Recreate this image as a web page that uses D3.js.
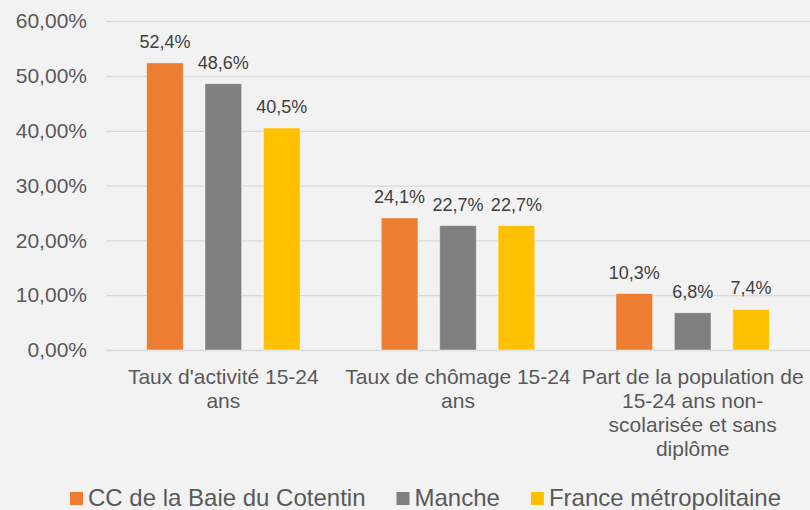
<!DOCTYPE html>
<html>
<head>
<meta charset="utf-8">
<script src="https://cdn.jsdelivr.net/npm/d3@7"></script>
<style>
  html, body { margin: 0; padding: 0; background: #f2f2f2; }
  svg { display: block; }
  text { font-family: "Liberation Sans", Arial, sans-serif; }
</style>
</head>
<body>
<svg id="chart" width="810" height="510"></svg>
<script>
const categories = [
  "Taux d'activité 15-24 ans",
  "Taux de chômage 15-24 ans",
  "Part de la population de 15-24 ans non-scolarisée et sans diplôme"
];
const categoryLines = [
  ["Taux d'activité 15-24", "ans"],
  ["Taux de chômage 15-24", "ans"],
  ["Part de la population de", "15-24 ans non-", "scolarisée et sans", "diplôme"]
];
const seriesNames = ["CC de la Baie du Cotentin", "Manche", "France métropolitaine"];
const seriesColors = ["#ED7D31", "#7F7F7F", "#FFC000"];
const valuesCC = [0.524, 0.241, 0.103];
const valuesManche = [0.486, 0.227, 0.068];
const valuesFrance = [0.405, 0.227, 0.074];
const yTicks = [0, 0.1, 0.2, 0.3, 0.4, 0.5, 0.6];

const seriesValues = [valuesCC, valuesManche, valuesFrance];

const W = 810, H = 510;
const svg = d3.select("#chart");
svg.append("rect").attr("width", W).attr("height", H).attr("fill", "#f2f2f2");

const locale = d3.formatLocale({ decimal: ",", thousands: " ", grouping: [3], currency: ["", "€"] });
const fmtTick = locale.format(".2%");
const fmtLabel = locale.format(".1%");

const plotLeft = 106, plotRight = 810, plotTop = 21.2, plotBottom = 350;

const y = d3.scaleLinear().domain([0, 0.6]).range([plotBottom, plotTop]);
const x0 = d3.scaleBand().domain(categories).range([plotLeft, plotRight]).paddingInner(0).paddingOuter(0);
const x1 = d3.scaleBand().domain(seriesNames).range([0, x0.bandwidth()]).paddingInner(0.372).paddingOuter(0.695);

// gridlines + y axis
const yAxis = d3.axisLeft(y).tickValues(yTicks).tickFormat(fmtTick).tickSize(-(plotRight - plotLeft)).tickPadding(19);
const gy = svg.append("g").attr("transform", `translate(${plotLeft},0)`).call(yAxis);
gy.select(".domain").remove();
gy.selectAll(".tick line").attr("stroke", "#d9d9d9").attr("stroke-width", 1.3);
gy.selectAll(".tick text")
  .attr("fill", "#595959")
  .style("font-size", "21px")
  .style("font-family", "'Liberation Sans', Arial, sans-serif");

// bars
const rows = categories.map((c, i) => ({ cat: c, vals: seriesNames.map((s, j) => ({ s, j, v: seriesValues[j][i] })) }));

const groups = svg.append("g").selectAll("g").data(rows).join("g")
  .attr("transform", d => `translate(${x0(d.cat)},0)`);

groups.selectAll("rect").data(d => d.vals).join("rect")
  .attr("x", d => x1(d.s))
  .attr("y", d => y(d.v))
  .attr("width", x1.bandwidth())
  .attr("height", d => y(0) - y(d.v))
  .attr("fill", d => seriesColors[d.j])
  .attr("stroke", "rgba(255,255,255,0.45)")
  .attr("stroke-width", 1);

groups.selectAll("text.lbl").data(d => d.vals).join("text")
  .attr("class", "lbl")
  .attr("x", d => x1(d.s) + x1.bandwidth() / 2)
  .attr("y", d => y(d.v) - 15)
  .attr("text-anchor", "middle")
  .attr("fill", "#404040")
  .style("font-size", "18px")
  .text(d => fmtLabel(d.v));

// category labels
const catG = svg.append("g");
categories.forEach((cat, i) => {
  const cx = x0(cat) + x0.bandwidth() / 2;
  const t = catG.append("text")
    .attr("x", cx).attr("y", 384)
    .attr("text-anchor", "middle")
    .attr("fill", "#595959")
    .style("font-size", "21px");
  categoryLines[i].forEach((ln, k) => {
    t.append("tspan").attr("x", cx).attr("dy", k === 0 ? 0 : 24).text(ln);
  });
});

// legend
const leg = svg.append("g");
let lx = 70;
seriesNames.forEach((s, i) => {
  leg.append("rect").attr("x", lx).attr("y", 492).attr("width", 13).attr("height", 13).attr("fill", seriesColors[i]);
  const tx = leg.append("text").attr("x", lx + 18).attr("y", 506)
    .attr("fill", "#595959").style("font-size", "24px").text(s);
  lx = lx + 18 + tx.node().getComputedTextLength() + 31;
});
</script>
</body>
</html>
